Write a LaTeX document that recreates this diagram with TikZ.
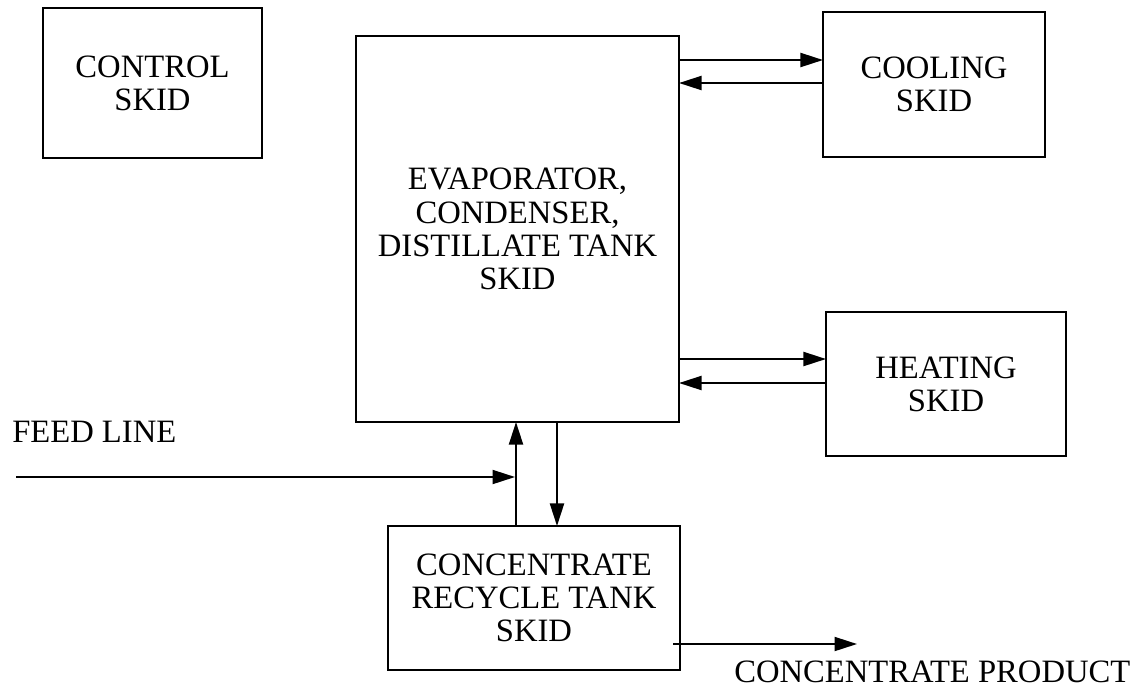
\documentclass[tikz,border=0pt]{standalone}
\usepackage{fontspec}
\setmainfont{Liberation Serif}
\usetikzlibrary{arrows.meta}

\begin{document}
\begin{tikzpicture}[x=0.025cm,y=-0.025cm]
  % Skid layout: evaporator block in the middle, utilities on the right,
  % recycle tank below; coordinates are read off the sheet in pixels.
  \definecolor{ink}{HTML}{000000}
  \useasboundingbox (0,0) rectangle (1133,687);
  \fill[white] (0,0) rectangle (1133,687);

  \tikzset{skid/.style={draw=ink,line width=1.3pt,inner sep=0pt,outer sep=0pt,
                        align=center,text=ink,font=\fontsize{23.2}{23.6}\selectfont},
            flow/.style={draw=ink,line width=1.3pt,-{Triangle[length=16pt,width=10pt]}},
            tag/.style={text=ink,inner sep=0pt,anchor=base west,font=\fontsize{23.2}{23.6}\selectfont}}
  \node[skid,minimum width=5.475cm,minimum height=3.75cm] (control) at (152.5,83) {CONTROL\\SKID};
  \node[skid,minimum width=8.075cm,minimum height=9.65cm] (evap) at (517.5,229)
    {EVAPORATOR,\\CONDENSER,\\DISTILLATE TANK\\SKID};
  \node[skid,minimum width=5.55cm,minimum height=3.625cm] (cool) at (934,84.5) {COOLING\\SKID};
  \node[skid,minimum width=6.0cm,minimum height=3.6cm] (heat) at (946,384) {HEATING\\SKID};
  \node[skid,minimum width=7.3cm,minimum height=3.6cm] (conc) at (534,598)
    {CONCENTRATE\\RECYCLE TANK\\SKID};

  \node[tag] (feedtxt) at (12,442) {FEED LINE};
  \node[tag] (prodtxt) at (734,682) {CONCENTRATE PRODUCT};

  \coordinate (feed) at (16,477);
  \coordinate (prod) at (673,644);

  % utility loops
  \draw[flow] (evap.east |- 0,60) -- (cool.west |- 0,60);
  \draw[flow] (cool.west |- 0,83) -- (evap.east |- 0,83);
  \draw[flow] (evap.east |- 0,359) -- (heat.west |- 0,359);
  \draw[flow] (heat.west |- 0,383) -- (evap.east |- 0,383);

  % recycle loop and feed
  \draw[flow] (conc.north -| 516,0) -- (evap.south -| 516,0);
  \draw[flow] (evap.south -| 557,0) -- (conc.north -| 557,0);
  \draw[flow] (feed) -- (feed -| 515,0);
  \draw[flow] (prod) -- (prod -| 857,0);
\end{tikzpicture}
\end{document}
